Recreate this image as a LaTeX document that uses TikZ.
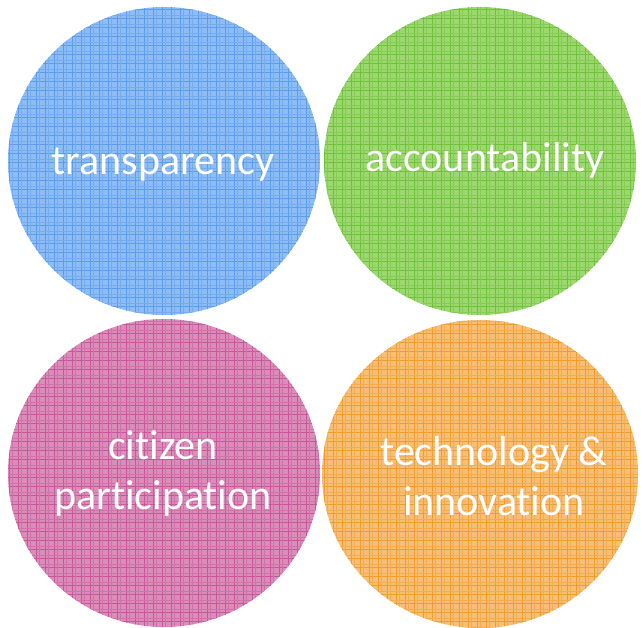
\documentclass[tikz,border=0pt]{standalone}
\usepackage{fontspec}
\setmainfont{Carlito}[Ligatures=NoCommon]
\definecolor{bluefill}{HTML}{8DBDF4}
\definecolor{blueline}{HTML}{5A9BEB}
\definecolor{greenfill}{HTML}{9DD76F}
\definecolor{greenline}{HTML}{6CC03A}
\definecolor{pinkfill}{HTML}{DA8DB9}
\definecolor{pinkline}{HTML}{C8559A}
\definecolor{orangefill}{HTML}{F7BE76}
\definecolor{orangeline}{HTML}{F09B2C}
\tikzset{
  circlabel/.style={text=white,align=center,inner sep=0pt,
    font=\fontsize{42pt}{50pt}\selectfont}
}
\begin{document}
\begin{tikzpicture}[x=1pt,y=-1pt]
    \pgfmathsetmacro{\blobrx}{156}
    \pgfmathsetmacro{\blobry}{154}
    \useasboundingbox (0,0) rectangle (642,628);
    % the four meshed blobs
    \foreach \cx/\cy/\rr/\col in {164/161/156/blue,480/161/156/green,164/473/156/pink,480/474/158/orange} {
        \begin{scope}
            \clip (\cx,\cy) ellipse [x radius=\rr, y radius=\blobry];
            \fill[\col fill] (\cx-\rr,\cy-\blobry) rectangle (\cx+\rr,\cy+\blobry);
            \draw[\col line,line width=0.8pt,step=9pt] (\cx-\rr-9,\cy-\blobry-9) grid (\cx+\rr+9,\cy+\blobry+9);
            \draw[\col line!50!\col fill,line width=0.4pt,step=9pt,shift={(3pt,3pt)}] (\cx-\rr-9,\cy-\blobry-9) grid (\cx+\rr+9,\cy+\blobry+9);
        \end{scope}
    }
    \node[circlabel,anchor=base] (transp) at (163,175) {transparency};
    \node[circlabel,anchor=base] (account) at (485,172) {accountability};
    \node[circlabel] (citizen) at (163,473) {citizen\\participation};
    \node[circlabel] (techinno) at (494,476) {technology \&\\innovation};
\end{tikzpicture}
\end{document}
